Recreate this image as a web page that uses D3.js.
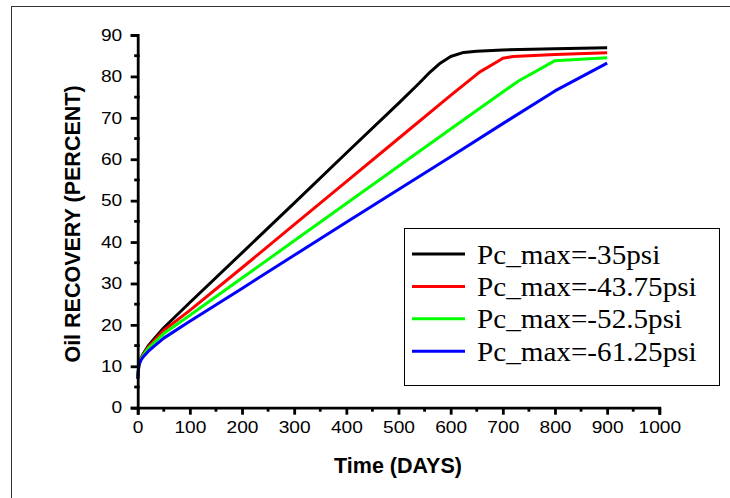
<!DOCTYPE html>
<html lang="en">
<head>
<meta charset="UTF-8">
<title>Oil recovery vs time</title>
<script src="https://d3js.org/d3.v7.min.js"></script>
<style>
    body { margin: 0; background: #fff; }
    .tick_text { font-family: "Liberation Sans", Arial, sans-serif; font-size: 16.5px; }
    .axis_title { font-family: "Liberation Sans", Arial, sans-serif; font-size: 21.5px; font-weight: bold; }
    .legend_text { font-family: "Liberation Serif", "Times New Roman", serif; font-size: 26.5px; }
</style>
</head>
<body>
<svg width="730" height="498"></svg>
<script>
    // series: [days, recovery %]
    const names = ["Pc_max=-35psi", "Pc_max=-43.75psi", "Pc_max=-52.5psi", "Pc_max=-61.25psi"];
    const colors = ["#000000", "#ff0000", "#00ff00", "#0000ff"];

    const pc35 = [[0,7],[2,10],[5,11.6],[10,12.9],[20,14.9],[30,16.4],[50,19.3],[100,25.4],[200,37.4],[300,49.4],
        [400,61.5],[500,73.5],[540,78.4],[560,81.0],[580,83.2],[600,84.8],[625,85.8],[650,86.1],[700,86.4],[800,86.7],[900,86.9]];
    const pc4375 = [[0,7],[2,10],[5,11.5],[10,12.7],[20,14.6],[30,16.0],[50,18.7],[100,23.5],[200,33.8],[300,44.2],
        [400,54.6],[500,65.0],[600,75.4],[656,81.1],[690,83.6],[700,84.4],[720,84.8],[800,85.3],[900,85.7]];
    const pc525 = [[0,7],[2,10],[5,11.4],[10,12.5],[20,14.3],[30,15.5],[50,17.9],[100,22.3],[200,31.3],[300,40.3],
        [400,49.3],[500,58.3],[600,67.3],[656,72.3],[730,78.9],[800,83.8],[900,84.5]];
    const pc6125 = [[0,7],[2,10],[5,11.2],[10,12.2],[20,13.6],[30,14.7],[50,16.8],[100,20.9],[200,28.8],[300,36.8],
        [400,44.8],[500,52.7],[600,60.6],[700,68.6],[800,76.5],[900,83.2]];
    const series = [pc35, pc4375, pc525, pc6125];

    const xTicks = d3.range(0, 1001, 100);
    const yTicks = d3.range(0, 91, 10);

    let svg = d3.select("svg");

    // the original picture's text is a bit wider than the fonts, so stretch it
    function stretch(sel, k) {
        sel.each(function () {
            let w = this.getComputedTextLength();
            d3.select(this).attr("textLength", w * k).attr("lengthAdjust", "spacingAndGlyphs");
        });
    }

    // outer frame (only top and left show in the window)
    svg.append("rect").attr("x", 11.5).attr("y", 6.5).attr("width", 740).attr("height", 520)
        .attr("fill", "none").attr("stroke", "#333").attr("stroke-width", 1);

    const x = d3.scaleLinear().domain([0, 1000]).range([137.7, 659.3]);
    const y = d3.scaleLinear().domain([0, 90]).range([407.7, 35]);

    // lines
    const line = d3.line().x(d => x(d[0])).y(d => y(d[1]));
    svg.append("g").selectAll("path")
        .data(series).enter().append("path")
        .attr("d", d => line(d))
        .attr("fill", "none")
        .attr("stroke", (d, i) => colors[i])
        .attr("stroke-width", 3)
        .attr("stroke-linejoin", "round");

    // x axis
    let gx = svg.append("g").attr("transform", `translate(0,${y(0)})`)
        .call(d3.axisBottom(x).tickValues(xTicks).tickSize(7).tickPadding(6.5).tickFormat(d3.format("d")));
    gx.select(".domain").attr("stroke-width", 2.8);
    gx.selectAll(".tick line").attr("stroke-width", 2.8);
    gx.selectAll("text").attr("class", "tick_text").attr("fill", "#000").call(stretch, 1.16);
    gx.selectAll(".minor").data(d3.range(50, 1000, 100)).enter().append("line")
        .attr("x1", d => x(d)).attr("x2", d => x(d)).attr("y1", 0).attr("y2", 4)
        .attr("stroke", "#000").attr("stroke-width", 2.8);

    // y axis
    let gy = svg.append("g").attr("transform", `translate(${x(0)},0)`)
        .call(d3.axisLeft(y).tickValues(yTicks).tickSize(7).tickPadding(8.5).tickFormat(d3.format("d")));
    gy.select(".domain").attr("stroke-width", 2.8);
    gy.selectAll(".tick line").attr("stroke-width", 2.8);
    gy.selectAll("text").attr("class", "tick_text").attr("fill", "#000").call(stretch, 1.16);
    gy.selectAll(".minor").data(d3.range(5, 90, 10)).enter().append("line")
        .attr("x1", -3.5).attr("x2", 2).attr("y1", d => y(d)).attr("y2", d => y(d))
        .attr("stroke", "#000").attr("stroke-width", 2.8);

    // axis titles
    svg.append("text").attr("class", "axis_title")
        .attr("x", 398).attr("y", 473).attr("text-anchor", "middle")
        .text("Time (DAYS)");
    svg.append("text").attr("class", "axis_title")
        .attr("transform", "translate(80,224) rotate(-90)").attr("text-anchor", "middle")
        .text("Oil RECOVERY (PERCENT)");

    // legend
    let lg = svg.append("g");
    lg.append("rect").attr("x", 404.5).attr("y", 228.5).attr("width", 315).attr("height", 157)
        .attr("fill", "#fff").attr("stroke", "#000").attr("stroke-width", 1);
    names.forEach(function (n, i) {
        let cy = 254 + i * 32.4;
        lg.append("line").attr("x1", 412).attr("x2", 465).attr("y1", cy).attr("y2", cy)
            .attr("stroke", colors[i]).attr("stroke-width", 3);
        lg.append("text").attr("class", "legend_text")
            .attr("x", 477).attr("y", cy + 9.5).text(n).call(stretch, 1.1);
    });
</script>
</body>
</html>
